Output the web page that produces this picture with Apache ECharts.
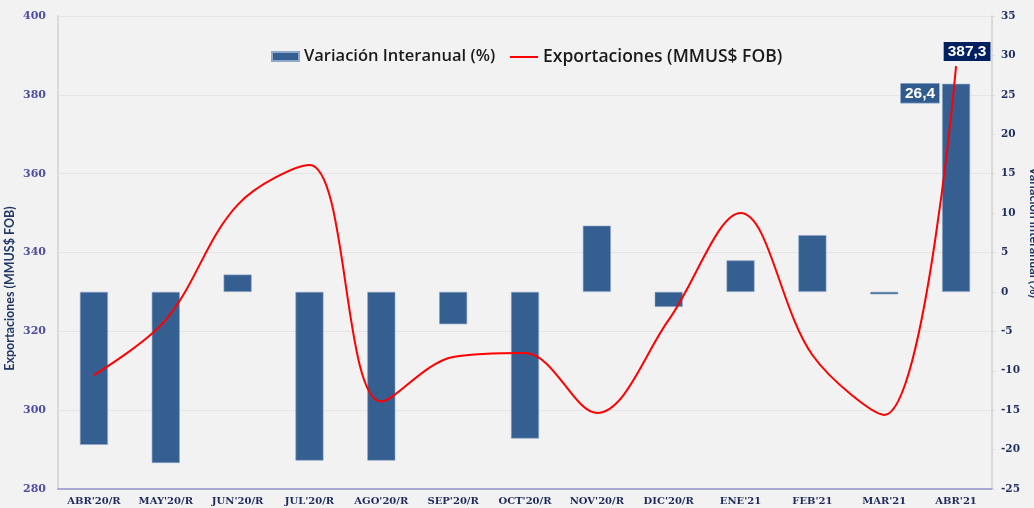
<!DOCTYPE html>
<html><head><meta charset="utf-8">
<script src="https://cdn.jsdelivr.net/npm/echarts@6/dist/echarts.min.js"></script>
<style>html,body{margin:0;padding:0;background:#f2f2f2;}#c{width:1034px;height:508px;}</style>
</head><body><div id="c"></div>
<script>
const categories = ["ABR'20/R","MAY'20/R","JUN'20/R","JUL'20/R","AGO'20/R","SEP'20/R","OCT'20/R","NOV'20/R","DIC'20/R","ENE'21","FEB'21","MAR'21","ABR'21"];
const variacion = [-19.4,-21.7,2.2,-21.4,-21.4,-4.1,-18.6,8.4,-1.9,4.0,7.2,-0.3,26.4];
const exportaciones = [308.9,322.9,352.1,362.2,302.2,313.5,314.5,299.3,322.9,350.0,314.0,298.8,387.3];
const leftTicks = {min:280,max:400,interval:20};
const rightTicks = {min:-25,max:35,interval:5};

const fmt = v => String(v).replace('.', ',');
const last = categories.length - 1;
const chart = echarts.init(document.getElementById('c'), null, {renderer:'canvas'});
const legendText = {fontFamily:'Open Sans',fontWeight:600,fontSize:16.5,color:'#1a1a1a'};
chart.setOption({
  backgroundColor:'#f2f2f2',
  animation:false,
  grid:{left:58,right:42,top:16,bottom:19,containLabel:false,outerBoundsMode:'none'},
  legend:[{
    top:43,left:266,itemGap:0,itemWidth:27,itemHeight:9,textStyle:legendText,
    data:[{name:'Variación Interanual (%)',icon:'rect'}]
  },{
    top:43,left:505,itemGap:0,itemWidth:28,itemHeight:2,textStyle:Object.assign({},legendText,{fontSize:17.5}),
    data:[{name:'Exportaciones (MMUS$ FOB)',icon:'rect'}]
  }],
  xAxis:{
    type:'category',data:categories,
    axisLine:{onZero:false,lineStyle:{color:'#a9a9d2',width:2}},
    axisTick:{show:false},
    axisLabel:{interval:0,fontFamily:'DejaVu Serif',fontWeight:'bold',fontSize:10,color:'#1f2a5c',margin:7}
  },
  yAxis:[{
    type:'value',position:'left',min:leftTicks.min,max:leftTicks.max,interval:leftTicks.interval,
    name:'Exportaciones (MMUS$ FOB)',nameLocation:'middle',nameGap:42,nameMoveOverlap:false,
    nameTextStyle:{fontFamily:'Lato',fontWeight:'bold',fontSize:12.5,color:'#1f3864',padding:[0,72,0,0]},
    axisLine:{show:true,lineStyle:{color:'#d9d9d9',width:2}},
    axisTick:{show:false},
    splitLine:{lineStyle:{color:'#e4e4e4',width:1}},
    axisLabel:{fontFamily:'DejaVu Serif',fontWeight:'bold',fontSize:11,color:'#4f4f9f',margin:12}
  },{
    type:'value',position:'right',min:rightTicks.min,max:rightTicks.max,interval:rightTicks.interval,
    name:'Variación interanual (%)',nameLocation:'middle',nameGap:36,nameRotate:-90,nameMoveOverlap:false,
    nameTextStyle:{fontFamily:'Lato',fontWeight:'bold',fontSize:12.5,color:'#1f3864',padding:[0,40,0,0]},
    axisLine:{show:true,lineStyle:{color:'#d9d9d9',width:2}},
    axisTick:{show:true,length:3,lineStyle:{color:'#d9d9d9'}},
    splitLine:{show:false},
    axisLabel:{fontFamily:'DejaVu Serif',fontWeight:'bold',fontSize:10.5,color:'#1f2f5f',margin:9}
  }],
  series:[{
    name:'Variación Interanual (%)',type:'bar',yAxisIndex:1,barWidth:28,
    itemStyle:{color:'#355f91',borderColor:'#8ea8c9',borderWidth:0.6},
    data:variacion.map((v,i)=> i===last ? {value:v,label:{show:true,position:[-3,0],align:'right',verticalAlign:'top',
      formatter:p=>fmt(p.value),backgroundColor:'#2f5b8e',borderColor:'#7f9cc2',borderWidth:0.6,color:'#fff',
      fontFamily:'Liberation Sans',fontWeight:'bold',fontSize:15.5,padding:[2,4,1,4]}} : v)
  },{
    name:'Exportaciones (MMUS$ FOB)',type:'line',yAxisIndex:0,smooth:0.35,showSymbol:true,symbol:'circle',symbolSize:0,
    lineStyle:{color:'#ff0000',width:2},itemStyle:{color:'#ff0000'},z:5,
    data:exportaciones.map((v,i)=> i===last ? {value:v,label:{show:true,position:'top',offset:[11,0],
      formatter:p=>fmt(p.value),backgroundColor:'#002060',color:'#fff',
      fontFamily:'Liberation Sans',fontWeight:'bold',fontSize:15.5,padding:[2,4,1,4]}} : v)
  }]
});
</script></body></html>
